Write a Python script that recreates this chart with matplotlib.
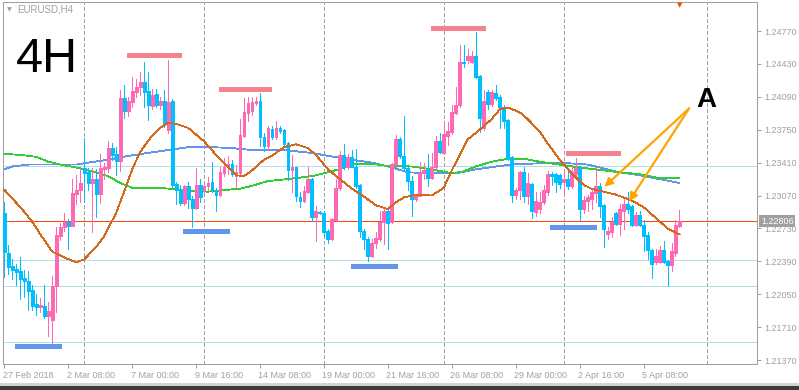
import matplotlib
matplotlib.use("Agg")
import matplotlib.pyplot as plt
import matplotlib.transforms as mtransforms
from matplotlib.patches import Rectangle

# ---------------- data ----------------
opens = [1.2289,1.2248,1.2234,1.2231,1.2229,1.2222,1.2219,1.2209,1.2195,1.2192,
         1.2193,1.2182,1.2178,1.2213,1.2265,1.2274,1.2280,1.2276,1.2309,1.2313,
         1.2335,1.2331,1.2320,1.2324,1.2309,1.2334,1.2335,1.2356,1.2350,1.2343,
         1.2408,1.2394,1.2404,1.2414,1.2419,1.2424,1.2415,1.2400,1.2412,1.2401,
         1.2405,1.2375,1.2405,1.2319,1.2313,1.2299,1.2317,1.2303,1.2294,1.2318,
         1.2313,1.2317,1.2321,1.2313,1.2308,1.2330,1.2336,1.2340,1.2327,1.2330,
         1.2369,1.2392,1.2394,1.2403,1.2405,1.2368,1.2358,1.2376,1.2367,1.2377,
         1.2375,1.2361,1.2333,1.2336,1.2305,1.2301,1.2311,1.2324,1.2285,1.2290,
         1.2289,1.2270,1.2262,1.2282,1.2315,1.2349,1.2337,1.2347,1.2337,1.2318,
         1.2270,1.2262,1.2245,1.2258,1.2262,1.2280,1.2291,1.2280,1.2340,1.2365,
         1.2348,1.2335,1.2322,1.2303,1.2307,1.2330,1.2333,1.2325,1.2336,1.2363,
         1.2351,1.2369,1.2373,1.2392,1.2401,1.2445,1.2447,1.2445,1.2451,1.2431,
         1.2377,1.2414,1.2402,1.2413,1.2409,1.2398,1.2385,1.2347,1.2308,1.2313,
         1.2331,1.2307,1.2319,1.2290,1.2293,1.2300,1.2311,1.2329,1.2329,1.2328,
         1.2321,1.2324,1.2317,1.2329,1.2337,1.2293,1.2301,1.2303,1.2310,1.2317,
         1.2297,1.2267,1.2269,1.2289,1.2278,1.2291,1.2298,1.2296,1.2277,1.2287,
         1.2277,1.2266,1.2251,1.2238,1.2238,1.2251,1.2239,1.2235,1.2248,1.2275]
highs = [1.2300,1.2256,1.2241,1.2236,1.2243,1.2230,1.2229,1.2215,1.2205,1.2201,
         1.2215,1.2197,1.2224,1.2274,1.2279,1.2289,1.2283,1.2324,1.2328,1.2335,
         1.2366,1.2335,1.2335,1.2334,1.2350,1.2341,1.2363,1.2361,1.2357,1.2416,
         1.2421,1.2409,1.2429,1.2427,1.2435,1.2445,1.2435,1.2417,1.2417,1.2409,
         1.2416,1.2447,1.2407,1.2321,1.2318,1.2318,1.2321,1.2306,1.2335,1.2324,
         1.2320,1.2326,1.2342,1.2315,1.2337,1.2346,1.2348,1.2344,1.2339,1.2386,
         1.2408,1.2409,1.2409,1.2409,1.2413,1.2372,1.2379,1.2379,1.2384,1.2379,
         1.2376,1.2362,1.2349,1.2337,1.2311,1.2317,1.2337,1.2325,1.2296,1.2291,
         1.2291,1.2272,1.2284,1.2324,1.2353,1.2360,1.2350,1.2354,1.2355,1.2319,
         1.2272,1.2264,1.2262,1.2269,1.2291,1.2295,1.2295,1.2341,1.2370,1.2367,
         1.2389,1.2337,1.2327,1.2309,1.2342,1.2341,1.2350,1.2351,1.2369,1.2372,
         1.2383,1.2383,1.2401,1.2419,1.2463,1.2463,1.2458,1.2456,1.2476,1.2432,
         1.2416,1.2416,1.2416,1.2421,1.2411,1.2401,1.2386,1.2348,1.2315,1.2332,
         1.2337,1.2330,1.2320,1.2311,1.2311,1.2318,1.2332,1.2331,1.2330,1.2329,
         1.2332,1.2335,1.2336,1.2346,1.2338,1.2306,1.2308,1.2315,1.2337,1.2320,
         1.2298,1.2274,1.2285,1.2290,1.2298,1.2305,1.2311,1.2297,1.2290,1.2291,
         1.2282,1.2269,1.2252,1.2252,1.2255,1.2260,1.2240,1.2258,1.2282,1.2292]
lows = [1.2223,1.2226,1.2221,1.2215,1.2200,1.2202,1.2189,1.2189,1.2184,1.2187,
        1.2180,1.2162,1.2155,1.2187,1.2261,1.2270,1.2252,1.2275,1.2298,1.2300,
        1.2300,1.2313,1.2269,1.2285,1.2299,1.2324,1.2331,1.2344,1.2328,1.2332,
        1.2387,1.2389,1.2399,1.2409,1.2411,1.2398,1.2385,1.2396,1.2398,1.2396,
        1.2378,1.2372,1.2316,1.2298,1.2297,1.2297,1.2294,1.2274,1.2293,1.2300,
        1.2310,1.2313,1.2311,1.2291,1.2306,1.2327,1.2329,1.2327,1.2315,1.2328,
        1.2368,1.2384,1.2390,1.2401,1.2358,1.2353,1.2354,1.2365,1.2365,1.2372,
        1.2358,1.2323,1.2311,1.2301,1.2295,1.2300,1.2310,1.2281,1.2260,1.2288,
        1.2265,1.2258,1.2261,1.2281,1.2313,1.2334,1.2334,1.2336,1.2315,1.2264,
        1.2252,1.2239,1.2243,1.2253,1.2260,1.2257,1.2252,1.2279,1.2336,1.2346,
        1.2332,1.2313,1.2286,1.2301,1.2306,1.2324,1.2317,1.2324,1.2334,1.2351,
        1.2350,1.2359,1.2371,1.2391,1.2398,1.2440,1.2444,1.2444,1.2428,1.2373,
        1.2375,1.2396,1.2400,1.2406,1.2377,1.2377,1.2344,1.2300,1.2303,1.2303,
        1.2300,1.2298,1.2284,1.2286,1.2289,1.2298,1.2308,1.2318,1.2311,1.2315,
        1.2308,1.2314,1.2315,1.2324,1.2282,1.2289,1.2291,1.2293,1.2300,1.2285,
        1.2254,1.2262,1.2264,1.2277,1.2266,1.2272,1.2289,1.2276,1.2275,1.2275,
        1.2250,1.2241,1.2222,1.2236,1.2237,1.2237,1.2214,1.2229,1.2245,1.2274]
closes = [1.2249,1.2233,1.2230,1.2228,1.2221,1.2219,1.2208,1.2193,1.2192,1.2194,
          1.2182,1.2188,1.2213,1.2266,1.2274,1.2280,1.2276,1.2310,1.2313,1.2320,
          1.2330,1.2320,1.2324,1.2309,1.2335,1.2336,1.2356,1.2349,1.2343,1.2408,
          1.2394,1.2405,1.2415,1.2419,1.2424,1.2414,1.2401,1.2411,1.2401,1.2405,
          1.2382,1.2404,1.2318,1.2313,1.2299,1.2317,1.2303,1.2294,1.2318,1.2305,
          1.2317,1.2320,1.2314,1.2308,1.2331,1.2337,1.2340,1.2329,1.2331,1.2370,
          1.2393,1.2403,1.2404,1.2405,1.2368,1.2358,1.2377,1.2368,1.2377,1.2374,
          1.2360,1.2333,1.2336,1.2306,1.2301,1.2312,1.2324,1.2285,1.2291,1.2289,
          1.2269,1.2262,1.2283,1.2315,1.2349,1.2337,1.2347,1.2337,1.2317,1.2270,
          1.2262,1.2245,1.2258,1.2263,1.2280,1.2291,1.2279,1.2340,1.2365,1.2348,
          1.2335,1.2322,1.2303,1.2307,1.2330,1.2333,1.2325,1.2337,1.2363,1.2352,
          1.2371,1.2374,1.2393,1.2401,1.2445,1.2444,1.2451,1.2451,1.2429,1.2387,
          1.2405,1.2402,1.2414,1.2408,1.2398,1.2384,1.2346,1.2308,1.2313,1.2331,
          1.2306,1.2320,1.2291,1.2301,1.2300,1.2313,1.2329,1.2327,1.2321,1.2319,
          1.2324,1.2317,1.2331,1.2335,1.2293,1.2302,1.2305,1.2311,1.2317,1.2296,
          1.2272,1.2270,1.2280,1.2278,1.2293,1.2298,1.2293,1.2277,1.2287,1.2277,
          1.2265,1.2251,1.2236,1.2245,1.2251,1.2238,1.2235,1.2250,1.2277,1.22806]

# moving averages (candle index, price)
ma_fast_idx = [0,4,7,9,12,15,18,20,23,25,28,30,32,34,37,39,41,43,46,48,50,53,55,58,60,62,65,67,70,73,
               76,78,81,84,87,90,93,96,98,100,103,107,110,112,114,116,119,122,124,126,129,131,134,136,139,
               142,145,147,150,153,157,160,163,166,169]
ma_fast_val = [1.2313,1.2295,1.2280,1.2267,1.2249,1.2243,1.2238,1.2241,1.2254,1.2265,1.2289,1.2311,1.2334,
               1.2352,1.2369,1.2377,1.2382,1.2381,1.2377,1.2370,1.2363,1.2349,1.2341,1.2328,1.2327,1.2333,
               1.2344,1.2348,1.2357,1.2360,1.2356,1.2349,1.2334,1.2324,1.2314,1.2306,1.2297,1.2293,1.2300,
               1.2305,1.2308,1.2307,1.2315,1.2333,1.2349,1.2365,1.2375,1.2386,1.2396,1.2398,1.2393,1.2386,
               1.2373,1.2361,1.2344,1.2330,1.2318,1.2314,1.2311,1.2308,1.2302,1.2295,1.2284,1.2273,1.2267]
ma_mid_idx = [0,4,8,11,14,18,22,26,29,32,37,42,46,51,56,59,62,66,71,77,82,86,88,92,95,102,107,112,115,118,
              122,126,130,134,139,144,152,159,164,169]
ma_mid_val = [1.2350,1.2349,1.2347,1.2342,1.2339,1.2336,1.2332,1.2327,1.2320,1.2315,1.2315,1.2314,1.2312,
              1.2311,1.2313,1.2314,1.2317,1.2322,1.2324,1.2327,1.2332,1.2337,1.2340,1.2340,1.2338,1.2337,
              1.2334,1.2330,1.2332,1.2337,1.2342,1.2345,1.2345,1.2342,1.2339,1.2336,1.2332,1.2329,1.2325,1.2325]
ma_slow_idx = [0,2,6,12,18,21,26,31,36,41,46,52,57,62,70,77,81,87,92,97,101,107,113,118,123,127,132,139,
               146,149,154,159,164,169]
ma_slow_val = [1.2334,1.2337,1.2339,1.2339,1.2339,1.2341,1.2344,1.2348,1.2351,1.2354,1.2357,1.2357,1.2356,
               1.2354,1.2354,1.2351,1.2348,1.2344,1.2341,1.2336,1.2331,1.2330,1.2330,1.2334,1.2337,1.2339,
               1.2340,1.2341,1.2339,1.2336,1.2331,1.2328,1.2324,1.2320]

last_price = 1.22806
level_lines = [1.2338, 1.2240, 1.2214, 1.2156]
resist_price = [1.2452, 1.2417, 1.2480, 1.2351]
resist_from = [30.7, 53.7, 106.7, 140.7]
resist_to = [44.2, 66.7, 120.2, 154.2]
support_price = [1.2151, 1.2270, 1.2234, 1.2274]
support_from = [2.7, 44.7, 86.7, 136.7]
support_to = [14.2, 56.2, 98.2, 148.2]
separators = [20, 50, 80, 110, 140, 176]
tick_idx = [0, 16, 32, 48, 64, 80, 96, 112, 128, 144, 160]
tick_labels = ["27 Feb 2018", "2 Mar 08:00", "7 Mar 00:00", "9 Mar 16:00", "14 Mar 08:00",
               "19 Mar 00:00", "21 Mar 16:00", "26 Mar 08:00", "29 Mar 00:00", "2 Apr 16:00",
               "5 Apr 08:00"]
price_ticks = [1.24770, 1.24430, 1.24090, 1.23750, 1.23410, 1.23070, 1.22730, 1.22390,
               1.22050, 1.21710, 1.21370]
arrow_tail = (171.4, 1.2397)
arrow_heads = [(150.2, 1.2316), (156.4, 1.2301)]

# ---------------- figure ----------------
W, H = 799, 390
fig = plt.figure(figsize=(W / 100, H / 100), dpi=100)
fig.patch.set_facecolor("white")
ax = fig.add_axes([2.5 / W, (H - 364) / H, (757 - 2.5) / W, 362 / H])
ax.set_xlim(-0.45, 188.4)
ax.set_ylim(1.21329, 1.25070)

grey = "#a0a0a0"
pink = "#ff69b4"
sky = "#00bfff"
px = 0.6

for s in ax.spines.values():
    s.set_color(grey)
    s.set_linewidth(0.75)

# level lines
for lv in level_lines:
    ax.axhline(lv, color="#b0e0e6", lw=px, zorder=1, antialiased=False)
ax.axhline(last_price, color="#ff4500", lw=px, zorder=2.5, antialiased=False)
for sp in separators:
    ax.axvline(sp, color=grey, lw=px, ls=(0, (4, 3)), zorder=1, antialiased=False)

# moving averages
ax.plot(ma_slow_idx, ma_slow_val, color="#6495ed", lw=px, zorder=2, antialiased=False)
ax.plot(ma_mid_idx, ma_mid_val, color="#32cd32", lw=px, zorder=2, antialiased=False)
ax.plot(ma_fast_idx, ma_fast_val, color="#d2691e", lw=px, zorder=4, antialiased=False)

# candles
for i, (o, h, l, c) in enumerate(zip(opens, highs, lows, closes)):
    col = pink if c >= o else sky
    ax.vlines(i, l, h, color=col, lw=px, zorder=3, antialiased=False)
    ax.bar(i, abs(c - o), bottom=min(o, c), width=0.72, color=col,
           edgecolor=col, linewidth=0.4, zorder=3, antialiased=False)

# support / resistance marks
for p, a, b in zip(resist_price, resist_from, resist_to):
    ax.hlines(p, a, b, color="#f4838f", lw=2.2, zorder=5, antialiased=False)
for p, a, b in zip(support_price, support_from, support_to):
    ax.hlines(p, a, b, color="#6495ed", lw=2.2, zorder=5, antialiased=False)

# arrows
for hx, hy in arrow_heads:
    ax.annotate("", xy=(hx, hy), xytext=arrow_tail,
                arrowprops=dict(arrowstyle="-|>", color="#ffa500", lw=1.6,
                                mutation_scale=12, shrinkA=0, shrinkB=0), zorder=6)

# axes ticks
ax.yaxis.tick_right()
ax.set_yticks(price_ticks)
ax.set_yticklabels([f"{p:.5f}" for p in price_ticks])
ax.set_xticks(tick_idx)
ax.set_xticklabels(tick_labels, ha="left")
ax.tick_params(axis="both", colors=grey, labelcolor=grey, length=3, width=0.75,
               labelsize=6.5, direction="out")
ax.tick_params(axis="y", pad=2)
ax.tick_params(axis="x", pad=2)
for lab in ax.get_xticklabels() + ax.get_yticklabels():
    lab.set_family("Liberation Sans")
offset = mtransforms.ScaledTranslation(-1.5 / 100, 0, fig.dpi_scale_trans)
for lab in ax.get_xticklabels():
    lab.set_transform(lab.get_transform() + offset)

# price tag
bt = mtransforms.blended_transform_factory(fig.transFigure, ax.transData)
ax.text(761 / W, last_price, f"{last_price:.5f}", transform=bt, color="white",
        fontsize=6.5, family="Liberation Sans", va="center", ha="left",
        bbox=dict(boxstyle="square,pad=0.2", fc=grey, ec="none"), clip_on=False, zorder=7)

# texts
fig.text(16 / W, 1 - 72 / H, "4H", fontsize=35, family="Liberation Sans",
         color="black", va="baseline", ha="left")
fig.text(696 / W, 1 - 107 / H, "A", fontsize=20, family="Liberation Sans",
         weight="bold", color="black", va="baseline", ha="left")
fig.text(17 / W, 1 - 10 / H, "EURUSD,H4", fontsize=7, family="Liberation Sans",
         color=grey, va="center", ha="left")
fig.text(9.5 / W, 1 - 10 / H, "\u25BC", fontsize=4.5, family="DejaVu Sans",
         color=grey, va="center", ha="center")
fig.text(680 / W, 1 - 5 / H, "\u25BC", fontsize=5, family="DejaVu Sans",
         color="#ff4500", va="center", ha="center")

# window border at the bottom
fig.patches.append(Rectangle((0, 0), 1, 4.5 / H, transform=fig.transFigure,
                             fc="#3c3c3c", ec="none"))
fig.patches.append(Rectangle((0, 4.5 / H), 1, 2.5 / H, transform=fig.transFigure,
                             fc="#d4d4d4", ec="none"))

fig.savefig("out.png", dpi=100, facecolor="white")
